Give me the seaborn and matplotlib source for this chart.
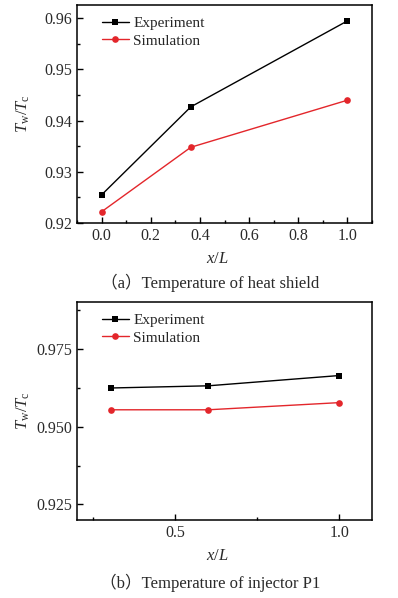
import numpy as np
import pandas as pd
import matplotlib
matplotlib.use('Agg')
import matplotlib.pyplot as plt
from matplotlib.ticker import MultipleLocator, FormatStrFormatter
import seaborn as sns

# (a) heat shield
shield_x = [0.0, 0.363, 1.0]
shield_exp = [0.9255, 0.9427, 0.9595]
shield_sim = [0.9222, 0.9348, 0.9440]

# (b) injector P1
inj_x = [0.303, 0.600, 1.0]
inj_exp = [0.9624, 0.9631, 0.9664]
inj_sim = [0.9554, 0.9554, 0.9577]

series_names = ['Experiment', 'Simulation']
captions = ['（a）Temperature of heat shield', '（b）Temperature of injector P1']

RED = '#e3262b'
TICK_COLOR = '#2a2a2a'

sns.set_theme(style='ticks')
plt.rcParams['font.family'] = ['Liberation Serif', 'Noto Sans CJK SC']
plt.rcParams['mathtext.fontset'] = 'custom'
plt.rcParams['mathtext.rm'] = 'Liberation Serif'
plt.rcParams['mathtext.it'] = 'Liberation Serif:italic'


def draw_panel(ax, x, exp, sim):
    df = pd.DataFrame({
        'x': list(x) * 2,
        'y': list(exp) + list(sim),
        'series': [series_names[0]] * len(x) + [series_names[1]] * len(x),
    })
    sns.lineplot(data=df[df.series == 'Experiment'], x='x', y='y', ax=ax,
                 color='black', marker='s', markersize=4.6, markeredgewidth=0,
                 linewidth=1.0, label='Experiment')
    sns.lineplot(data=df[df.series == 'Simulation'], x='x', y='y', ax=ax,
                 color=RED, marker='o', markersize=4.8, markeredgewidth=0,
                 linewidth=1.0, label='Simulation')
    for s in ax.spines.values():
        s.set_visible(True)
        s.set_color('black')
        s.set_linewidth(1.1)
    ax.tick_params(which='both', direction='in', top=False, right=False,
                   labelsize=11.5, labelcolor=TICK_COLOR, color='black')
    ax.tick_params(which='major', length=4, width=1)
    ax.tick_params(which='minor', length=2.5, width=1)
    ax.set_xlabel('$x/L$', fontsize=12, color=TICK_COLOR)
    ax.set_ylabel(r'$T_\mathrm{w}/T_\mathrm{c}$', fontsize=12, color=TICK_COLOR)
    ax.xaxis.set_label_coords((217 - 77) / 295, -28 / 218)
    ax.yaxis.set_label_coords(-45 / 295, 0.5)
    ax.legend(loc='upper left', frameon=False, fontsize=11, handlelength=1.8,
              handletextpad=0.25, labelspacing=0.25, borderaxespad=0.35,
              bbox_to_anchor=(0.045, 1.0))


fig = plt.figure(figsize=(3.98, 5.98), dpi=100)
ax1 = fig.add_axes([0.1935, 0.6271, 0.7412, 0.3645])
ax2 = fig.add_axes([0.1935, 0.1304, 0.7412, 0.3645])

draw_panel(ax1, shield_x, shield_exp, shield_sim)
ax1.set_xlim(-0.1, 1.1)
ax1.set_ylim(0.92, 0.9626)
ax1.xaxis.set_major_locator(MultipleLocator(0.2))
ax1.xaxis.set_minor_locator(MultipleLocator(0.1))
ax1.xaxis.set_major_formatter(FormatStrFormatter('%.1f'))
ax1.yaxis.set_major_locator(MultipleLocator(0.01))
ax1.yaxis.set_minor_locator(MultipleLocator(0.005))
ax1.yaxis.set_major_formatter(FormatStrFormatter('%.2f'))

draw_panel(ax2, inj_x, inj_exp, inj_sim)
ax2.set_xlim(0.2, 1.1)
ax2.set_ylim(0.92, 0.99)
ax2.xaxis.set_major_locator(MultipleLocator(0.5))
ax2.xaxis.set_minor_locator(MultipleLocator(0.25))
ax2.xaxis.set_major_formatter(FormatStrFormatter('%.1f'))
ax2.yaxis.set_major_locator(MultipleLocator(0.025))
ax2.yaxis.set_minor_locator(MultipleLocator(0.0125))
ax2.yaxis.set_major_formatter(FormatStrFormatter('%.3f'))

fig.text(210 / 398, 1 - 283 / 598, captions[0], ha='center', va='center',
         fontsize=12, color=TICK_COLOR)
fig.text(210 / 398, 1 - 583 / 598, captions[1], ha='center', va='center',
         fontsize=12, color=TICK_COLOR)

fig.savefig('out.png', dpi=100)
